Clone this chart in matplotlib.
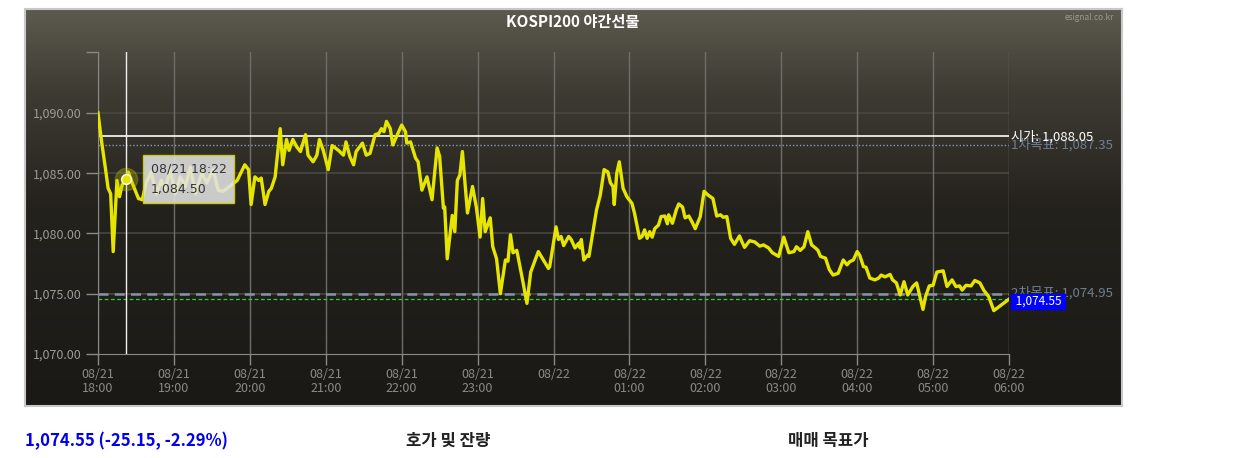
import numpy as np
import matplotlib
matplotlib.use("Agg")
import matplotlib.pyplot as plt
from matplotlib.colors import LinearSegmentedColormap
from matplotlib.transforms import blended_transform_factory

plt.rcParams['font.family'] = ['Noto Sans CJK KR', 'DejaVu Sans']

# minutes after 08/21 18:00 and price
minutes = [0, 3, 6, 8, 10, 12, 15, 17, 19, 22, 24, 27, 32, 35, 38, 42, 46, 50, 53, 57,
           61, 65, 69, 73, 77, 82, 86, 91, 95, 99, 104, 110, 116, 119, 121, 124, 127, 129,
           132, 135, 137, 140, 144, 146, 149, 151, 154, 157, 160, 164, 166, 170, 173,
           175, 178, 182, 185, 190, 194, 196, 199, 202, 204, 209, 212, 215, 219, 222, 224,
           226, 228, 231, 233, 237, 240, 243, 244, 247, 251, 253, 256, 260, 264, 268, 270,
           273, 274, 276, 280, 282, 284, 286, 288, 292, 296, 299, 302, 304, 306, 310, 312,
           315, 318, 322, 324, 326, 328, 331, 336, 339, 342, 348, 352, 356,
           357, 360, 362, 364, 366, 368, 372, 374, 377, 380, 381, 382, 384, 387, 388, 391,
           394, 397, 400, 403, 405, 407, 408, 410, 412, 415, 418, 422, 424, 428, 430, 432,
           434, 436, 438, 440, 443, 445, 448, 450, 451, 454, 457, 459, 462, 464, 467, 470,
           472, 476, 479, 482, 486, 489, 492, 494, 497, 500, 503, 507, 509, 511, 515, 519,
           523, 526, 530, 533, 538,
           542, 546, 550, 552, 555, 558, 561, 564, 567, 569, 571, 575, 578, 581, 585, 589,
           592, 594, 597, 600, 602, 605, 607, 610, 614, 617, 619, 622, 626, 628, 631, 634,
           637, 640, 644, 647, 650, 652, 654, 657, 660, 663, 668, 671, 675, 678, 681, 683,
           686, 690, 693, 697, 700, 704, 708, 720]
prices = [1090.0, 1087.5, 1085.3, 1083.75, 1083.3, 1078.5, 1084.4, 1083.05, 1084.0, 1084.5,
          1085.1, 1084.2, 1082.9, 1082.8, 1084.2, 1085.1, 1083.3, 1084.4, 1083.6, 1085.3,
          1083.3, 1084.7, 1083.9, 1085.5, 1083.3, 1085.0, 1084.2, 1085.3, 1083.6, 1083.5,
          1083.9, 1084.4, 1085.7, 1085.3, 1082.4, 1084.7, 1084.4, 1084.6, 1082.4, 1083.5,
          1083.75, 1084.7, 1088.7, 1085.7, 1087.8, 1086.9, 1087.8, 1087.2, 1086.8, 1088.2,
          1086.5, 1085.95, 1086.5,
          1087.8, 1086.9, 1085.3, 1087.3, 1086.9, 1086.5, 1087.6, 1086.4, 1085.7, 1086.8,
          1087.5, 1086.5, 1086.65, 1088.2, 1088.3, 1088.7, 1088.45, 1089.3, 1088.7, 1087.35,
          1088.3, 1089.0, 1088.45, 1087.5, 1087.6, 1086.25, 1085.95, 1083.6, 1084.7, 1082.8,
          1087.1, 1086.4, 1082.1, 1082.2, 1077.9, 1081.5, 1080.15, 1084.4, 1084.85, 1086.8,
          1081.7, 1083.9, 1082.2, 1079.7, 1082.9, 1080.15, 1081.3, 1078.9, 1077.9, 1075.0,
          1077.8, 1077.7, 1079.9, 1078.4, 1078.6, 1075.9, 1074.2, 1076.8, 1078.5, 1077.8,
          1077.1,
          1077.25, 1079.2, 1080.55, 1079.5, 1079.75, 1079.0, 1079.75, 1079.5, 1078.8, 1079.2,
          1078.8, 1079.5, 1077.8, 1078.2, 1078.1, 1080.0, 1081.95, 1083.2, 1085.3, 1085.1,
          1084.2, 1083.9, 1082.4, 1085.0, 1085.95, 1083.75, 1083.05, 1082.5, 1081.7, 1079.6,
          1079.75, 1080.3, 1079.6, 1080.15, 1079.7, 1080.4, 1080.7, 1081.4, 1081.45, 1080.8,
          1081.55, 1080.85, 1081.95, 1082.45, 1082.2, 1081.3, 1081.45, 1080.85, 1080.4,
          1081.4, 1083.5, 1083.2, 1082.9, 1081.45, 1081.55, 1081.35, 1081.4, 1079.6, 1079.1,
          1079.8, 1079.3, 1078.85, 1079.4, 1079.3, 1078.95, 1079.05, 1078.8, 1078.4, 1078.1,
          1079.7, 1078.4, 1078.5, 1078.9, 1078.6, 1078.9, 1080.15, 1079.05, 1078.8, 1078.6,
          1078.1, 1077.95, 1077.0, 1076.55, 1076.7, 1077.8, 1077.4, 1077.65, 1077.8, 1078.5,
          1078.2, 1077.25, 1077.2, 1076.3, 1076.15, 1076.3, 1076.55, 1076.4, 1076.6, 1076.15,
          1075.9, 1074.9, 1076.0, 1074.9, 1075.6, 1075.9, 1074.6, 1073.7, 1074.75, 1075.65,
          1075.7, 1076.8, 1076.9, 1075.6, 1076.15, 1075.6, 1075.65, 1075.3, 1075.7, 1075.65,
          1076.1, 1075.9, 1075.3, 1074.75, 1073.6, 1074.55]

tick_minutes = list(range(0, 721, 60))
tick_labels = ["08/21\n18:00", "08/21\n19:00", "08/21\n20:00", "08/21\n21:00",
               "08/21\n22:00", "08/21\n23:00", "08/22\n", "08/22\n01:00", "08/22\n02:00",
               "08/22\n03:00", "08/22\n04:00", "08/22\n05:00", "08/22\n06:00"]
y_ticks = [1070, 1075, 1080, 1085, 1090]

open_price = 1088.05
target1 = 1087.35
target2 = 1074.95
last_price = 1074.55
hover_minute = 22
hover_price = 1084.50

W, H = 1236, 458
fig = plt.figure(figsize=(W / 100, H / 100), dpi=100)
fig.patch.set_facecolor("white")

# dark panel with gradient
bg = fig.add_axes([25 / W, 1 - 406 / H, 1097 / W, 397 / H])
cmap = LinearSegmentedColormap.from_list(
    "panel", [(0, "#5c594e"), (0.2, "#3f3c34"), (0.5, "#24221d"), (1, "#1b1915")])
bg.imshow(np.linspace(0, 1, 300).reshape(-1, 1), cmap=cmap, aspect="auto",
          extent=[0, 1, 0, 1])
bg.set_xticks([])
bg.set_yticks([])
for s in bg.spines.values():
    s.set_color("#c8c8c8")
    s.set_linewidth(1.5)

fig.text(573 / W, 1 - 22 / H, "KOSPI200 야간선물", color="white", fontsize=11,
         fontweight="bold", ha="center", va="center")
fig.text(1114 / W, 1 - 18 / H, "esignal.co.kr", color="#9a9890", fontsize=6,
         ha="right", va="center")

ax = fig.add_axes([98 / W, 1 - 354 / H, 911 / W, 302 / H])
ax.set_facecolor("none")
ax.set_xlim(0, 720)
ax.set_ylim(1070, 1095.06)

for v in y_ticks[1:]:
    ax.axhline(v, color="#48463f", lw=1.2, zorder=1)
for m in tick_minutes:
    ax.axvline(m, color="#6e6d68", lw=1, zorder=1)

ax.set_xticks(tick_minutes)
ax.set_xticklabels(tick_labels)
ax.set_yticks(y_ticks)
ax.set_yticklabels([f"{v:,.2f}" for v in y_ticks])
ax.set_yticks([1095.06], minor=True)
ax.tick_params(axis="x", colors="#8a8a86", labelsize=9, length=8, width=1,
               direction="out", pad=2, color="#8a8a86")
ax.tick_params(axis="y", which="both", colors="#9a9a96", labelsize=9, length=9,
               width=1, direction="out", pad=3, color="#8a8a86")
for lbl in ax.get_xticklabels():
    lbl.set_linespacing(1.15)
for name in ["top", "right"]:
    ax.spines[name].set_visible(False)
ax.spines["left"].set_color("#8a8a86")
ax.spines["bottom"].set_color("#8a8a86")

# reference lines
ax.axhline(open_price, color="white", lw=1.2, zorder=2)
ax.axhline(target1, color="#8a9bb0", lw=1, ls=(0, (1, 1.5)), zorder=2)
ax.axhline(target2, color="#8495ab", lw=1.8, ls=(0, (4, 2.5)), zorder=2)
ax.axhline(last_price, color="#33cc33", lw=0.9, ls=(0, (3, 2)), zorder=2)

ax.plot(minutes, prices, color="#e5e500", lw=2.4, zorder=4, solid_joinstyle="round")

tr = blended_transform_factory(ax.transAxes, ax.transData)
ax.text(1.002, target1, "1차목표: 1,087.35", transform=tr, color="#6c8094", fontsize=9.5,
        va="center", ha="left", clip_on=False)
ax.text(1.002, open_price, "시가: 1,088.05", transform=tr, color="white", fontsize=9.5,
        va="center", ha="left", clip_on=False)
ax.text(1.002, target2 + 0.15, "2차목표: 1,074.95", transform=tr, color="#6c8094",
        fontsize=9.5, va="center", ha="left", clip_on=False)
ax.text(1.004, last_price - 0.2, f" {last_price:,.2f} ", transform=tr, color="white",
        fontsize=8.5, va="center", ha="left", clip_on=False,
        bbox=dict(boxstyle="square,pad=0.12", fc="#0000ff", ec="#0000ff"))

# hover crosshair and tooltip
ax.axvline(hover_minute, color="#f0f0f0", lw=1, zorder=3)
ax.plot([hover_minute], [hover_price], "o", ms=16, color="#c8c800", alpha=0.3, zorder=5)
ax.plot([hover_minute], [hover_price], "o", ms=7, mfc="#e5e500", mec="white", mew=1,
        zorder=6)
ax.annotate(f"08/21 18:22\n{hover_price:,.2f}", xy=(hover_minute, hover_price),
            xytext=(18, 0), textcoords="offset points", va="center", ha="left",
            fontsize=9, color="#333333", linespacing=1.7, zorder=7,
            family=["DejaVu Sans"],
            bbox=dict(boxstyle="square,pad=0.6", fc="#e2e2e2", ec="#d6d600",
                      alpha=0.88, lw=1))

fig.text(25 / W, 1 - 441 / H, "1,074.55 (-25.15, -2.29%)", color="#0000ee",
         fontsize=12, fontweight="bold", ha="left", va="center")
fig.text(406 / W, 1 - 441 / H, "호가 및 잔량", color="#222222", fontsize=12,
         fontweight="bold", ha="left", va="center")
fig.text(788 / W, 1 - 441 / H, "매매 목표가", color="#222222", fontsize=12,
         fontweight="bold", ha="left", va="center")

fig.savefig("out.png", dpi=100)
